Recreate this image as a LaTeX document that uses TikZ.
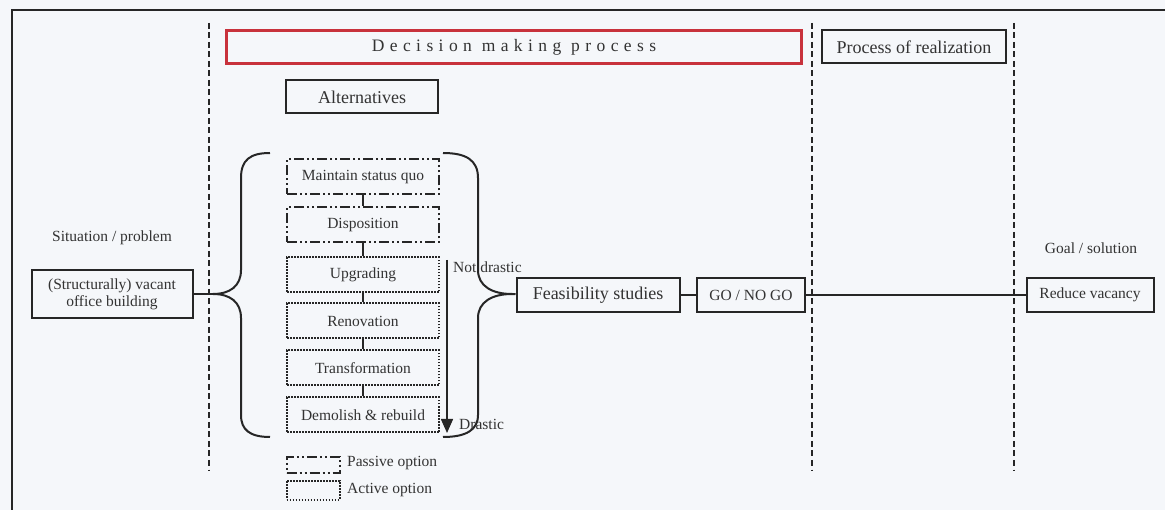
\documentclass[tikz,border=0pt]{standalone}
\usepackage{fontspec}
\setmainfont{Liberation Serif}
\usepackage{tikz}
\usetikzlibrary{arrows.meta}
\usetikzlibrary{backgrounds}
\definecolor{ink}{HTML}{262626}
\definecolor{txt}{HTML}{333333}
\definecolor{dmred}{HTML}{C8323C}
\definecolor{paper}{HTML}{F5F7FA}
\newcommand{\smallfs}{\fontsize{15.5}{17}\selectfont}
\newcommand{\bigfs}{\fontsize{18}{20}\selectfont}
\newcommand{\spacedfs}{\fontsize{17.5}{19}\selectfont\addfontfeature{LetterSpace=31}}
\tikzset{
  box/.style={draw=ink, line width=2pt, text=txt, font=\smallfs, inner sep=2pt},
  altbox/.style={box, minimum width=152pt, minimum height=35pt},
  passive/.style={altbox, dash pattern=on 10pt off 3pt on 2pt off 3pt on 2pt off 3pt},
  active/.style={altbox, line width=2pt, dash pattern=on 1.6pt off 1.4pt},
  sep/.style={ink, line width=2pt, dash pattern=on 6pt off 3.5pt},
  brc/.style={ink, line width=2pt},
  lbl/.style={text=txt, font=\smallfs, inner sep=0pt}
}
\begin{document}
\begin{tikzpicture}[x=1pt,y=-1pt]
\fill[paper] (0,0) rectangle (1165,510);
\useasboundingbox (0,0) rectangle (1165,510);
\draw[ink, line width=2.6pt] (12,510) -- (12,10) -- (1165,10);
\foreach \xs in {209,812,1014}
  \draw[sep] (\xs,23) -- (\xs,470);
\node[box, draw=dmred, line width=2.2pt, minimum width=575pt, minimum height=33pt, font=\spacedfs] (dmp) at (514,47) {Decision making process};
\node[box, minimum width=184pt, minimum height=33pt, font=\bigfs] (real) at (914,47) {Process of realization};
\node[box, minimum width=152pt, minimum height=33pt, font=\bigfs] (alt) at (362,97) {Alternatives};
\node[lbl] (sit) at (112,238) {Situation / problem};
\node[box, minimum width=161pt, minimum height=48pt, align=center] (vac) at (112,294) {(Structurally) vacant\\office building};
\foreach \nm/\yy/\st/\lab in {msq/177/passive/Maintain status quo, dsp/225/passive/Disposition, upg/275/active/Upgrading, ren/321/active/Renovation, trf/368/active/Transformation, dmr/415/active/Demolish \& rebuild}
  \node[\st] (\nm) at (363,\yy) {\lab};
\foreach \a/\b in {msq/dsp,dsp/upg,upg/ren,ren/trf,trf/dmr}
  \draw[ink, line width=2pt] (\a) -- (\b);
\coordinate (lb) at (213,294);
\coordinate (rb) at (512,294);
\draw[brc] (270,153) .. controls (250,153) and (241,160) .. (241,178) -- (241,270) .. controls (241,286) and (230,294) .. (lb) .. controls (230,294) and (241,302) .. (241,318) -- (241,415) .. controls (241,430) and (250,437) .. (270,437);
\draw[brc] (443,153) .. controls (466,153) and (478,160) .. (478,178) -- (478,270) .. controls (478,286) and (492,294) .. (rb) .. controls (492,294) and (478,302) .. (478,318) -- (478,415) .. controls (478,430) and (466,437) .. (443,437);
\coordinate (nd) at (447,260);
\coordinate (dr) at (447,433);
\draw[ink, line width=1.5pt, -{Triangle[width=12pt,length=14pt]}] (nd) -- (dr);
\node[lbl, anchor=west] (ndl) at (453,267) {Not drastic};
\node[lbl, anchor=west] (drl) at (459,424) {Drastic};
\node[box, minimum width=163pt, minimum height=34pt, font=\bigfs] (feas) at (598,295) {Feasibility studies};
\node[box, minimum width=108pt, minimum height=34pt] (go) at (751,295) {GO / NO GO};
\node[lbl] (goal) at (1091,248) {Goal / solution};
\node[box, minimum width=127pt, minimum height=34pt] (red) at (1090,295) {Reduce vacancy};
\draw[brc] (vac) -- (lb);
\draw[brc] (rb) -- (feas);
\draw[brc] (feas) -- (go);
\draw[brc] (go) -- (red);
\node[passive, minimum width=53pt, minimum height=16pt] (pas) at (313,465) {};
\node[active, minimum width=53pt, minimum height=19pt] (act) at (313,490) {};
\node[lbl, anchor=west] (pasl) at (347,463) {Passive option};
\node[lbl, anchor=west] (actl) at (347,490) {Active option};
\end{tikzpicture}
\end{document}
